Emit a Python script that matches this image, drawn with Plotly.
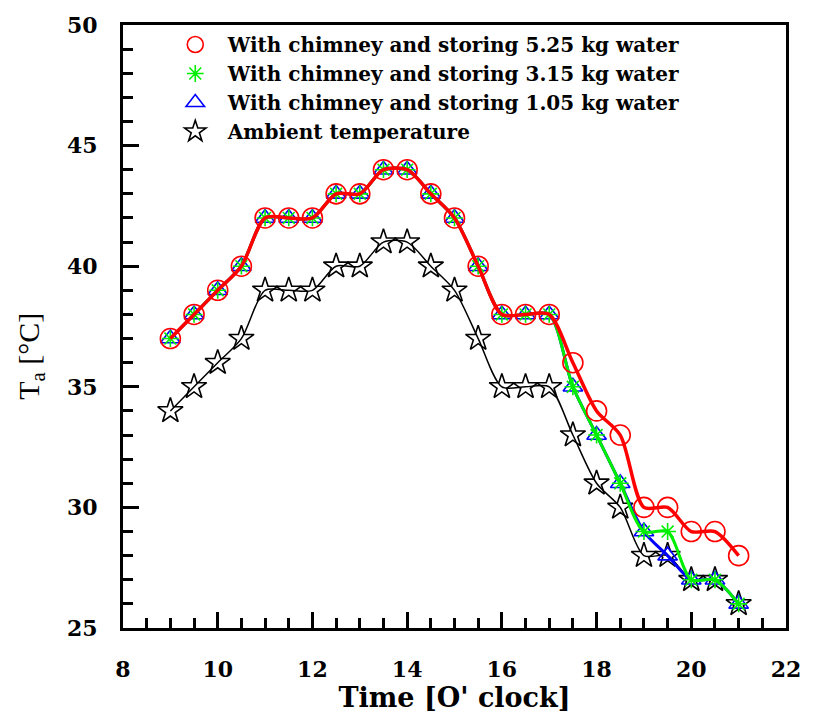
import plotly.graph_objects as go

# Hourly readings every half hour, 9:00 to 21:00
time_h = [9, 9.5, 10, 10.5, 11, 11.5, 12, 12.5, 13, 13.5, 14, 14.5, 15,
          15.5, 16, 16.5, 17, 17.5, 18, 18.5, 19, 19.5, 20, 20.5, 21]

t_525 = [37, 38, 39, 40, 42, 42, 42, 43, 43, 44, 44, 43, 42,
         40, 38, 38, 38, 36, 34, 33, 30, 30, 29, 29, 28]
t_315 = [37, 38, 39, 40, 42, 42, 42, 43, 43, 44, 44, 43, 42,
         40, 38, 38, 38, 35, 33, 31, 29, 29, 27, 27, 26]
t_105 = [37, 38, 39, 40, 42, 42, 42, 43, 43, 44, 44, 43, 42,
         40, 38, 38, 38, 35, 33, 31, 29, 28, 27, 27, 26]
t_amb = [34, 35, 36, 37, 39, 39, 39, 40, 40, 41, 41, 40, 39,
         37, 35, 35, 35, 33, 31, 30, 28, 28, 27, 27, 26]

names = ["With chimney and storing 5.25 kg water",
         "With chimney and storing 3.15 kg water",
         "With chimney and storing 1.05 kg water",
         "Ambient temperature"]

SERIF = "Liberation Serif, Times New Roman, serif"
WIDE_SERIF = "DejaVu Serif, serif"

# (values, name, line colour, line width, marker symbol, marker size)
series = [
    (t_amb, names[3], "black", 1.5, "star-open", 19),
    (t_105, names[2], "#0000ff", 3, "triangle-up-open", 17),
    (t_315, names[1], "#00ee00", 3, "asterisk-open", 14),
    (t_525, names[0], "#ff0000", 3.5, "circle-open", 20),
]

fig = go.Figure()

# curves drawn back to front: ambient, 1.05 kg, 3.15 kg, 5.25 kg
for vals, name, col, lw, sym, ms in series:
    fig.add_trace(go.Scatter(
        x=time_h, y=vals, name=name, mode="lines+markers", showlegend=False,
        line=dict(color=col, width=lw, shape="spline", smoothing=0.8),
        marker=dict(symbol=sym, size=ms, color=col, line=dict(width=1.6, color=col))))

# legend entries show the marker symbol only
for vals, name, col, lw, sym, ms in series:
    fig.add_trace(go.Scatter(
        x=[None], y=[None], name=name, mode="markers", showlegend=True,
        marker=dict(symbol=sym, size=ms, color=col, line=dict(width=1.6, color=col))))

fig.update_layout(
    width=813, height=720,
    margin=dict(l=123, r=19, t=22, b=92),
    plot_bgcolor="white", paper_bgcolor="white",
    font=dict(family=SERIF, color="black"),
    showlegend=True,
    legend=dict(
        x=0.06, y=1.0, xanchor="left", yanchor="top",
        traceorder="reversed", bgcolor="rgba(0,0,0,0)",
        font=dict(family=WIDE_SERIF, size=20, color="black", weight="bold"),
        itemwidth=55, tracegroupgap=0,
    ),
)

fig.update_xaxes(
    range=[8, 22], dtick=2, tick0=8,
    showline=True, linecolor="black", linewidth=3, mirror=True,
    ticks="inside", ticklen=16, tickwidth=2.5, tickcolor="black",
    minor=dict(ticks="inside", dtick=0.5, ticklen=10, tickwidth=2.5, tickcolor="black"),
    showgrid=False, zeroline=False,
    tickfont=dict(family=WIDE_SERIF, size=22, color="black", weight="bold"),
    ticklabelstandoff=20,
    title=dict(text="Time [O' clock]", standoff=6,
               font=dict(family=WIDE_SERIF, size=27, color="black", weight="bold")),
)

fig.update_yaxes(
    range=[25, 50], dtick=5, tick0=25,
    showline=True, linecolor="black", linewidth=3, mirror=True,
    ticks="inside", ticklen=16, tickwidth=2.5, tickcolor="black",
    minor=dict(ticks="inside", dtick=1, ticklen=10, tickwidth=2.5, tickcolor="black"),
    showgrid=False, zeroline=False,
    tickfont=dict(family=WIDE_SERIF, size=22, color="black", weight="bold"),
    ticklabelstandoff=18,
)

fig.add_annotation(
    text="T<sub>a</sub> [°C]", textangle=-90, showarrow=False,
    xref="paper", yref="paper", x=-0.14, y=0.45,
    xanchor="center", yanchor="middle",
    font=dict(family=SERIF, size=30, color="black"),
)

fig.write_html("out.html")
